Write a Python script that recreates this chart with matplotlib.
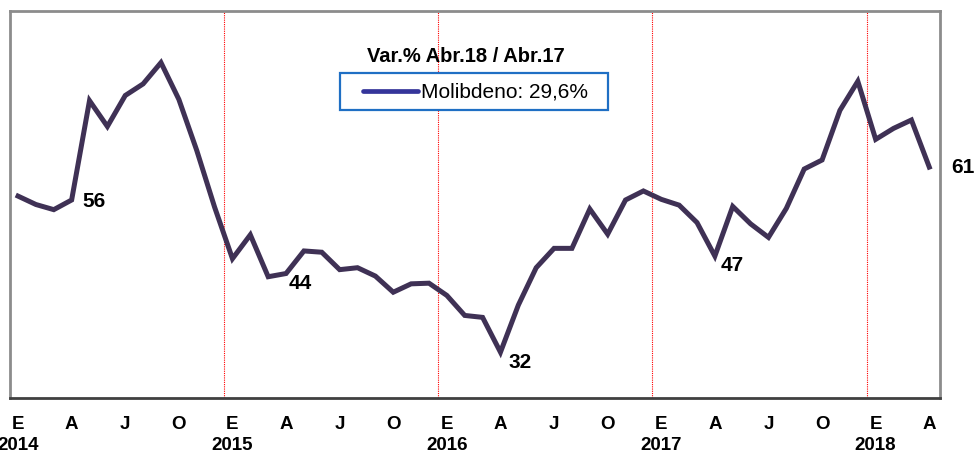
import numpy as np
import matplotlib
matplotlib.use("Agg")
import matplotlib.pyplot as plt
from matplotlib.lines import Line2D
from matplotlib.patches import Rectangle

plt.rcParams['font.family'] = ['Liberation Sans Narrow', 'Liberation Sans', 'DejaVu Sans']

# ---------------------------
# DATA (ene-2014 .. abr-2018, mensual)
# ---------------------------
values = [
    56.3, 55.0, 54.2, 55.7, 71.1, 67.1, 71.9, 73.7, 77.0, 71.3, 63.4, 54.6,   # 2014
    46.6, 50.3, 43.8, 44.3, 47.8, 47.6, 44.9, 45.2, 43.9, 41.4, 42.7, 42.8,   # 2015
    40.9, 37.8, 37.5, 32.1, 39.4, 45.2, 48.2, 48.2, 54.3, 50.4, 55.7, 57.1,   # 2016
    55.8, 54.9, 52.2, 47.0, 54.7, 52.0, 49.9, 54.4, 60.5, 61.9, 69.6, 74.1,   # 2017
    65.1, 66.8, 68.1, 60.8,                                                   # 2018
]
month_letters = ['E', 'A', 'J', 'O']
years = ['2014', '2015', '2016', '2017', '2018']

# etiquetas de dato: indice -> texto, desplazamiento en pixeles
point_labels = {3: '56', 15: '44', 27: '32', 39: '47', 51: '61'}
label_offsets = {3: (22, -2), 15: (14, -10), 27: (20, -10), 39: (17, -9), 51: (34, 0)}

legend_title = 'Var.% Abr.18 / Abr.17'
legend_text = 'Molibdeno: 29,6%'

LINE_COLOR = '#3f3155'
LEGEND_LINE = '#35359a'

W, H = 976, 457
fig = plt.figure(figsize=(W / 100, H / 100), dpi=100)
ax = fig.add_axes([10 / W, 1 - 398 / H, 930 / W, 387 / H])

x = np.arange(len(values))
ax.plot(x, values, color=LINE_COLOR, lw=3.6, solid_joinstyle='miter', zorder=3)

ax.set_xlim(-0.45, 51.6)
ax.set_ylim(25, 85)

# separadores de anio
for k in range(1, len(years)):
    ax.axvline(12 * k - 0.5, color='red', lw=0.8, ls=(0, (1, 1)), zorder=1)

# ticks
ticks, labels = [], []
for i in range(0, len(values), 3):
    t = month_letters[(i // 3) % 4]
    if i % 12 == 0:
        t = t + '\n' + years[i // 12]
    ticks.append(i)
    labels.append(t)
ax.set_xticks(ticks)
ax.set_xticklabels(labels, fontsize=13.5, fontweight='bold', linespacing=1.3)
ax.tick_params(axis='x', length=0, pad=13)
ax.set_yticks([])

for side in ['left', 'top', 'right']:
    ax.spines[side].set_color('#8c8c8c')
    ax.spines[side].set_linewidth(2)
ax.spines['bottom'].set_color('#404040')
ax.spines['bottom'].set_linewidth(2)

for i, txt in point_labels.items():
    dx, dy = label_offsets[i]
    ax.annotate(txt, (x[i], values[i]), xytext=(dx, dy), textcoords='offset pixels',
                ha='center', va='center', fontsize=15, fontweight='bold',
                annotation_clip=False)

# ---------------------------
# LEGEND (dibujada en pixeles de figura)
# ---------------------------
def fx(px):
    return px / W


def fy(py):
    return 1 - py / H


fig.text(fx(466), fy(57), legend_title, ha='center', va='center',
         fontsize=14.5, fontweight='bold')
fig.add_artist(Rectangle((fx(340), fy(110)), fx(268), 37 / H, transform=fig.transFigure,
                         facecolor='white', edgecolor='#1f6fc4', lw=1.6, zorder=5))
fig.add_artist(Line2D([fx(363), fx(418)], [fy(91), fy(91)], transform=fig.transFigure,
                      color=LEGEND_LINE, lw=3.4, solid_capstyle='round', zorder=6))
fig.text(fx(421), fy(92), legend_text, ha='left', va='center', fontsize=15, zorder=6)

fig.savefig('out.png', dpi=100)
